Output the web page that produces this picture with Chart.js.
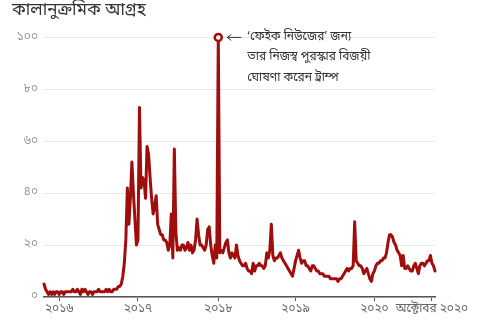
<!DOCTYPE html>
<html>
<head>
<meta charset="utf-8">
<script src="https://cdn.jsdelivr.net/npm/chart.js@4.4.1/dist/chart.umd.min.js"></script>
<style>
  html, body { margin: 0; padding: 0; background: #fff; }
  #wrap { width: 480px; height: 320px; }
</style>
</head>
<body>
<div id="wrap"><canvas id="trendChart" width="480" height="320"></canvas></div>
<script>
// weekly search interest, late Oct 2015 .. early Oct 2020 (week index = position)
const interest = [
    5, 3, 2, 1, 2, 1, 2, 1, 2, 2,
    1, 2, 2, 1, 2, 2, 2, 2, 2, 3,
    2, 2, 3, 2, 1, 3, 2, 3, 2, 1,
    2, 2, 1, 2, 2, 2, 3, 2, 2, 2,
    2, 3, 2, 3, 2, 2, 3, 3, 3, 4,
    4, 5, 8, 13, 22, 42, 28, 38, 52, 40,
    30, 20, 22, 73, 42, 46, 45, 38, 58, 55,
    46, 38, 32, 35, 39, 28, 26, 24, 24, 22,
    22, 21, 18, 20, 32, 15, 57, 25, 18, 19,
    18, 20, 20, 18, 19, 21, 18, 20, 17, 18,
    22, 30, 24, 20, 20, 19, 18, 20, 26, 27,
    20, 16, 13, 20, 15, 100, 17, 18, 17, 19,
    21, 22, 17, 15, 17, 16, 15, 20, 16, 14,
    13, 12, 12, 13, 11, 10, 10, 9, 13, 10,
    12, 12, 13, 12, 12, 11, 12, 17, 15, 18,
    28, 16, 14, 15, 15, 16, 17, 15, 14, 13,
    12, 11, 10, 9, 8, 11, 14, 16, 18, 15,
    13, 14, 14, 12, 12, 11, 10, 12, 12, 11,
    10, 10, 9, 9, 9, 8, 8, 8, 8, 7,
    7, 7, 7, 7, 6, 7, 7, 8, 9, 10,
    11, 10, 11, 11, 12, 29, 14, 13, 12, 12,
    11, 9, 10, 11, 9, 7, 6, 9, 10, 12,
    13, 13, 14, 14, 15, 15, 17, 21, 24, 24,
    23, 21, 20, 18, 17, 16, 12, 16, 11, 11,
    12, 11, 10, 10, 12, 13, 11, 9, 12, 13,
    13, 12, 13, 14, 14, 16, 13, 12, 10
];

// x-axis ticks (week index) and their labels
const tickWeeks = [10, 62, 115, 166, 218, 256];
const tickLabels = ['২০১৬', '২০১৭', '২০১৮', '২০১৯', '২০২০', 'অক্টোবর ২০২০'];

// y-axis ticks
const yTicks = [0, 20, 40, 60, 80, 100];
const yTickLabels = ['০', '২০', '৪০', '৬০', '৮০', '১০০'];

const titleText = 'কালানুক্রমিক আগ্রহ';
const noteLines = ['‘ফেইক নিউজের’ জন্য', 'তার নিজস্ব পুরস্কার বিজয়ী', 'ঘোষণা করেন ট্রাম্প'];

const bnFont = "'Noto Sans Bengali', 'Noto Serif Bengali', 'Lohit Bengali', 'FreeSerif', 'Noto Sans', sans-serif";
const lineColor = '#a00d0d';
const peakIndex = interest.indexOf(Math.max(...interest));

// arrow + note next to the peak marker
const notePlugin = {
    id: 'peakNote',
    afterDraw(chart) {
        const ctx = chart.ctx;
        const x = chart.scales.x.getPixelForValue(peakIndex);
        const y = chart.scales.y.getPixelForValue(interest[peakIndex]);
        ctx.save();
        ctx.strokeStyle = '#333';
        ctx.lineWidth = 1;
        ctx.beginPath();
        ctx.moveTo(x + 9, y);
        ctx.lineTo(x + 23, y);
        ctx.moveTo(x + 13, y - 3);
        ctx.lineTo(x + 9, y);
        ctx.lineTo(x + 13, y + 3);
        ctx.stroke();
        ctx.fillStyle = '#333';
        ctx.font = '12px ' + bnFont;
        ctx.textBaseline = 'middle';
        noteLines.forEach((line, i) => {
            ctx.fillText(line, x + 29, y + i * 20.5);
        });
        ctx.restore();
    }
};

const ctx = document.getElementById('trendChart').getContext('2d');
const trendChart = new Chart(ctx, {
    type: 'line',
    data: {
        datasets: [{
            data: interest.map((v, i) => ({ x: i, y: v })),
            borderColor: lineColor,
            borderWidth: 3,
            borderJoinStyle: 'round',
            borderCapStyle: 'round',
            tension: 0,
            clip: false,
            pointRadius: c => (c.dataIndex === peakIndex ? 3.5 : 0),
            pointHoverRadius: 0,
            pointBackgroundColor: '#fff',
            pointBorderColor: lineColor,
            pointBorderWidth: 2.5
        }]
    },
    options: {
        responsive: false,
        animation: false,
        layout: { padding: { left: 12, right: 45, top: 2, bottom: 0 } },
        plugins: {
            legend: { display: false },
            tooltip: { enabled: false },
            title: {
                display: true,
                text: titleText,
                align: 'start',
                color: '#333',
                font: { family: bnFont, size: 17, weight: 'normal' },
                padding: { top: 0, bottom: 15 }
            }
        },
        scales: {
            x: {
                type: 'linear',
                min: 0,
                max: interest.length - 1,
                afterBuildTicks: s => { s.ticks = tickWeeks.map(v => ({ value: v })); },
                afterFit: s => { s.height = 23; },
                ticks: {
                    autoSkip: false,
                    maxRotation: 0,
                    color: '#666',
                    font: { family: bnFont, size: 12 },
                    padding: 1,
                    callback: v => tickLabels[tickWeeks.indexOf(v)]
                },
                grid: {
                    drawOnChartArea: false,
                    drawTicks: true,
                    tickLength: 4,
                    color: '#555'
                },
                border: { color: '#555', width: 1.5 }
            },
            y: {
                min: 0,
                max: 100,
                afterBuildTicks: s => { s.ticks = yTicks.map(v => ({ value: v })); },
                afterFit: s => { s.width = 32; },
                ticks: {
                    color: '#999',
                    font: { family: bnFont, size: 12 },
                    padding: 6,
                    callback: v => yTickLabels[yTicks.indexOf(v)]
                },
                grid: { color: '#e8e8e8', drawTicks: false },
                border: { display: false }
            }
        }
    },
    plugins: [notePlugin]
});
</script>
</body>
</html>
